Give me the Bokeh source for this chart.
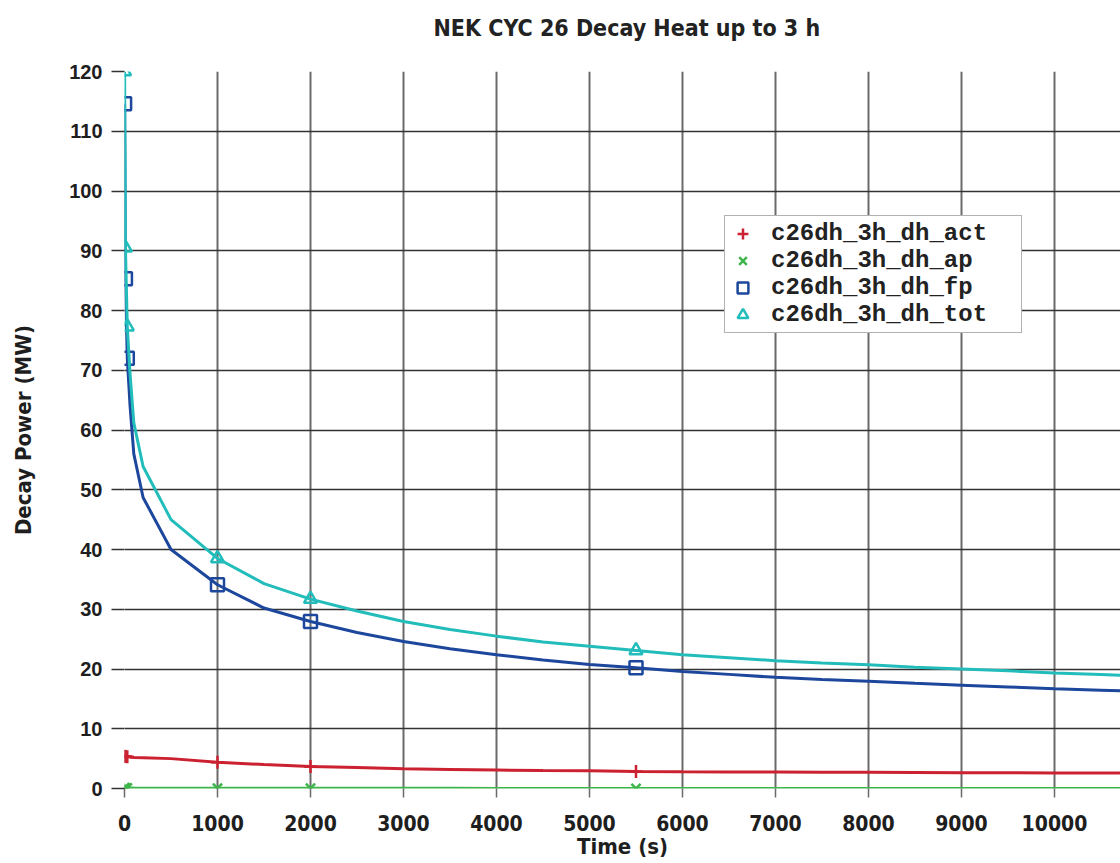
from bokeh.plotting import figure
from bokeh.models import Range1d, Legend, LegendItem, FixedTicker, Title
from bokeh.embed import file_html
from bokeh.resources import INLINE

# ---- data ----
time_s = [1, 10, 30, 60, 100, 200, 500, 1000, 1500, 2000, 2500, 3000, 3500, 4000,
          4500, 5000, 5500, 6000, 6500, 7000, 7500, 8000, 8500, 9000, 9500,
          10000, 10500, 10800]
dh_act = [5.4, 5.35, 5.3, 5.25, 5.2, 5.15, 5.0, 4.4, 4.0, 3.7, 3.5, 3.3, 3.2, 3.1,
          3.0, 2.95, 2.85, 2.8, 2.78, 2.75, 2.72, 2.7, 2.68, 2.65, 2.62,
          2.6, 2.6, 2.58]
dh_ap = [0.12, 0.1, 0.09, 0.08, 0.07, 0.06, 0.05, 0.04, 0.04, 0.03, 0.03, 0.03, 0.03, 0.02,
         0.02, 0.02, 0.02, 0.02, 0.02, 0.02, 0.02, 0.02, 0.02, 0.02, 0.02,
         0.02, 0.02, 0.02]
dh_fp = [114.6, 85.3, 72.0, 64.0, 56.0, 48.7, 40.0, 34.1, 30.2, 27.95, 26.1, 24.6, 23.4, 22.4,
         21.5, 20.75, 20.2, 19.6, 19.1, 18.6, 18.25, 17.95, 17.6, 17.3, 17.0,
         16.7, 16.45, 16.3]
dh_tot = [120.0, 90.5, 77.3, 69.3, 61.2, 53.9, 45.0, 38.5, 34.3, 31.7, 29.7, 27.95, 26.6, 25.5,
          24.5, 23.8, 23.1, 22.4, 21.9, 21.4, 21.0, 20.7, 20.3, 20.0, 19.7,
          19.35, 19.1, 18.9]
marker_times = [1, 10, 30, 1000, 2000, 5500, 10800]

series_names = ["c26dh_3h_dh_act", "c26dh_3h_dh_ap", "c26dh_3h_dh_fp", "c26dh_3h_dh_tot"]
series_values = [dh_act, dh_ap, dh_fp, dh_tot]
series_colors = ["#cc2130", "#3db54a", "#1c479c", "#22bdbb"]
series_markers = ["cross", "x", "square", "triangle"]

x_ticks = [0, 1000, 2000, 3000, 4000, 5000, 6000, 7000, 8000, 9000, 10000]
y_ticks = [0, 10, 20, 30, 40, 50, 60, 70, 80, 90, 100, 110, 120]
title_text = "NEK CYC 26 Decay Heat up to 3 h"

COND = "'DejaVu Sans Condensed', 'Liberation Sans', sans-serif"

p = figure(width=1120, height=863, output_backend="svg", toolbar_location=None,
           title=None,
           x_range=Range1d(0, 10710), y_range=Range1d(0, 120),
           min_border_left=124, min_border_right=0, min_border_top=71,
           min_border_bottom=75)

p.outline_line_color = None
p.background_fill_color = "white"

# blank spacer title next to the frame, then the real title above it
p.add_layout(Title(text=" ", text_font_size="10px", standoff=18), "above")
p.add_layout(Title(text=title_text, align="left", offset=309, standoff=0,
                   text_font=COND, text_font_size="23px", text_font_style="bold",
                   text_color="#222222"), "above")

# grids
p.xgrid.ticker = FixedTicker(ticks=x_ticks)
p.ygrid.ticker = FixedTicker(ticks=y_ticks)
p.xgrid.grid_line_color = "#6a6a6a"
p.xgrid.grid_line_width = 2
p.ygrid.grid_line_color = "#333333"
p.ygrid.grid_line_width = 1.5

# axes
p.xaxis.ticker = FixedTicker(ticks=x_ticks)
p.yaxis.ticker = FixedTicker(ticks=y_ticks)
for ax in (p.xaxis[0], p.yaxis[0]):
    ax.axis_line_color = None
    ax.minor_tick_line_color = None
    ax.major_tick_in = 0
    ax.major_tick_line_width = 1.5
    ax.major_label_text_color = "#1e1e1e"
    ax.axis_label_text_color = "#1e1e1e"
    ax.axis_label_text_font_style = "bold"
    ax.major_label_text_font_style = "bold"
p.xaxis.major_tick_out = 9
p.xaxis.major_tick_line_color = "#6a6a6a"
p.yaxis.major_tick_out = 13
p.yaxis.major_tick_line_color = "#333333"

p.xaxis.axis_label = "Time (s)"
p.xaxis.axis_label_text_font = COND
p.xaxis.axis_label_text_font_size = "22px"
p.xaxis.axis_label_text_line_height = 0.9
p.xaxis.axis_label_standoff = 0
p.xaxis.major_label_text_font = COND
p.xaxis.major_label_text_font_size = "21px"
p.xaxis.major_label_text_line_height = 0.9
p.xaxis.major_label_standoff = 17

p.yaxis.axis_label = "Decay Power (MW)"
p.yaxis.axis_label_text_font = COND
p.yaxis.axis_label_text_font_size = "22px"
p.yaxis.axis_label_standoff = 30
p.yaxis.major_label_text_font = "Liberation Sans"
p.yaxis.major_label_text_font_size = "20px"
p.yaxis.major_label_standoff = 9

items = []
for name, vals, col, mk in zip(series_names, series_values, series_colors, series_markers):
    p.line(time_s, vals, line_color=col, line_width=3)
    mx = [t for t in marker_times]
    my = [vals[time_s.index(t)] for t in marker_times]
    r = p.scatter(mx, my, marker=mk, size=13, line_color=col, fill_color=None,
                  line_width=2.5)
    items.append(LegendItem(label=name, renderers=[r]))

legend = Legend(items=items, location=(600, 455))
legend.label_text_font = "Liberation Mono"
legend.label_text_font_style = "bold"
legend.label_text_font_size = "24px"
legend.label_text_color = "#222222"
legend.label_height = 27
legend.label_width = 246
legend.glyph_height = 27
legend.glyph_width = 27
legend.label_standoff = 15
legend.spacing = 0
legend.padding = 4
legend.margin = 0
legend.border_line_color = "#666666"
legend.border_line_width = 1.5
legend.background_fill_color = "white"
legend.background_fill_alpha = 1
p.add_layout(legend)

open("out.html", "w").write(file_html(p, INLINE))
